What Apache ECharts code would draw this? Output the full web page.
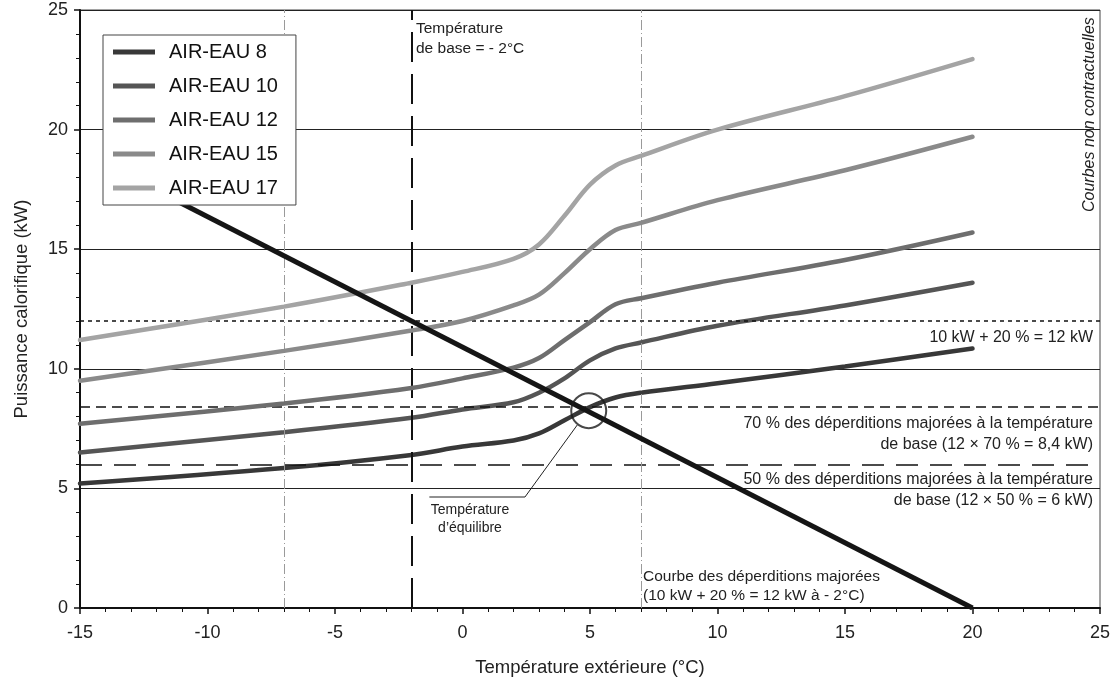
<!DOCTYPE html>
<html>
<head>
<meta charset="utf-8">
<script src="https://cdn.jsdelivr.net/npm/echarts@6/dist/echarts.min.js"></script>
<style>html,body{margin:0;padding:0;background:#fff}#c{width:1115px;height:686px}</style>
</head>
<body>
<div id="c"></div>
<script>
// Temperatures (°C) at which the curves are sampled
const temps = [-15, -7, -2, 0, 2, 3, 4, 5, 6, 7, 10, 15, 20];
// Heating power (kW) per model
const eau8  = [5.2, 5.85, 6.4, 6.75, 7.0, 7.3, 7.85, 8.4, 8.8, 9.0, 9.4, 10.1, 10.85];
const eau10 = [6.5, 7.35, 7.95, 8.3, 8.6, 9.0, 9.6, 10.35, 10.85, 11.1, 11.8, 12.65, 13.6];
const eau12 = [7.7, 8.55, 9.2, 9.6, 10.05, 10.45, 11.2, 11.95, 12.7, 12.95, 13.6, 14.55, 15.7];
const eau15 = [9.5, 10.75, 11.6, 12.0, 12.65, 13.1, 14.0, 15.0, 15.8, 16.1, 17.05, 18.3, 19.7];
const eau17 = [11.2, 12.6, 13.6, 14.05, 14.6, 15.2, 16.4, 17.7, 18.5, 18.9, 20.0, 21.4, 22.95];
const seriesNames = ['AIR-EAU 8', 'AIR-EAU 10', 'AIR-EAU 12', 'AIR-EAU 15', 'AIR-EAU 17'];
const seriesColors = ['#383838', '#555555', '#6e6e6e', '#8a8a8a', '#a4a4a4'];
// Heat-loss line (kW): 12 kW at -2 °C, 0 kW at 20 °C
const deperdTemps = [-13.5, 20];
const deperdVals  = [18.27, 0];
// Reference levels
const levelLines = [12, 8.4, 6];
const tempLines = [-7, 7];
const baseTemp = -2;
// Equilibrium point and its leader line (data space)
const equilibre = [4.95, 8.25];
const leaderX = [4.5, 2.45, -1.3];
const leaderY = [7.65, 4.64, 4.64];
const xTicks = [-15, 25, 5];
const yTicks = [0, 25, 5];

const FONT = '"Liberation Sans", Arial, sans-serif';
const pairs = (xs, ys) => xs.map((x, i) => [x, ys[i]]);
const curves = [eau8, eau10, eau12, eau15, eau17];

const series = [];
series.push({
  type: 'line', name: 'refs', data: [], silent: true, z: 1,
  markLine: {
    silent: true, symbol: 'none', label: {show: false}, animation: false,
    data: [
      {yAxis: levelLines[0], lineStyle: {color: '#111', width: 1.5, type: [4, 4]}},
      {yAxis: levelLines[1], lineStyle: {color: '#111', width: 1.5, type: [10, 6]}},
      {yAxis: levelLines[2], lineStyle: {color: '#111', width: 1.5, type: [22, 12]}},
      {xAxis: tempLines[0], lineStyle: {color: '#9a9a9a', width: 1, type: [10, 3, 1, 3]}},
      {xAxis: tempLines[1], lineStyle: {color: '#9a9a9a', width: 1, type: [10, 3, 1, 3]}},
      {xAxis: baseTemp, lineStyle: {color: '#111', width: 2, type: [30, 12]}}
    ]
  }
});
curves.forEach((c, i) => {
  series.push({
    type: 'line', name: seriesNames[i], data: pairs(temps, c), smooth: 0.35,
    showSymbol: false, symbol: 'none', z: 3 + i,
    lineStyle: {color: seriesColors[i], width: 4.5, cap: 'round'},
    itemStyle: {color: seriesColors[i]}
  });
});
series.push({
  type: 'line', name: 'deperditions', data: pairs(deperdTemps, deperdVals), symbol: 'none', z: 10,
  lineStyle: {color: '#151515', width: 5}
});
series.push({
  type: 'line', name: 'leader', data: pairs(leaderX, leaderY), symbol: 'none', z: 10,
  lineStyle: {color: '#222', width: 1}
});
series.push({
  type: 'scatter', name: 'equilibre', data: [equilibre], symbol: 'circle', symbolSize: 35, z: 11,
  itemStyle: {color: 'rgba(0,0,0,0)', borderColor: '#1a1a1a', borderWidth: 2}
});

const txt = (x, y, text, size, align, lh, extra) => Object.assign({
  type: 'text', x, y, z: 100,
  style: {text, font: size + 'px ' + FONT, fill: '#222', align, verticalAlign: 'top', lineHeight: lh}
}, extra || {});

const option = {
  animation: false,
  backgroundColor: '#fff',
  textStyle: {fontFamily: FONT},
  grid: {left: 80, right: 15, top: 10, bottom: 78, show: true, borderColor: '#444', borderWidth: 1,
    backgroundColor: 'transparent', containLabel: false, outerBoundsMode: 'none'},
  legend: {
    data: seriesNames, orient: 'vertical', left: 103, top: 35,
    backgroundColor: '#fff', borderColor: '#444', borderWidth: 1,
    padding: [7, 18, 7, 10], itemGap: 14, icon: 'rect', itemWidth: 42, itemHeight: 5,
    textStyle: {fontSize: 20, color: '#111', fontFamily: FONT, lineHeight: 20, padding: [0, 0, 0, 9]},
    z: 50
  },
  xAxis: {
    type: 'value', min: xTicks[0], max: xTicks[1], interval: xTicks[2],
    name: 'Température extérieure (°C)', nameLocation: 'middle', nameGap: 50,
    nameTextStyle: {fontSize: 18.5, color: '#222'},
    axisLine: {show: true, onZero: false, lineStyle: {color: '#111', width: 2}},
    axisTick: {show: true, length: 6, lineStyle: {color: '#111', width: 1.5}},
    minorTick: {show: true, splitNumber: 5, length: 4, lineStyle: {color: '#111', width: 1}},
    axisLabel: {fontSize: 18, color: '#222', margin: 16},
    splitLine: {show: false}
  },
  yAxis: {
    type: 'value', min: yTicks[0], max: yTicks[1], interval: yTicks[2],
    name: 'Puissance calorifique (kW)', nameLocation: 'middle', nameGap: 49,
    nameTextStyle: {fontSize: 18.5, color: '#222'},
    axisLine: {show: true, onZero: false, lineStyle: {color: '#111', width: 2}},
    axisTick: {show: true, length: 6, lineStyle: {color: '#111', width: 1.5}},
    minorTick: {show: true, splitNumber: 5, length: 4, lineStyle: {color: '#111', width: 1}},
    axisLabel: {fontSize: 18, color: '#222', margin: 12},
    splitLine: {show: true, lineStyle: {color: '#222', width: 1}}
  },
  series,
  graphic: [
    txt(416, 19, 'Température\nde base = - 2°C', 15.5, 'left', 20),
    txt(1093, 328, '10 kW + 20 % = 12 kW', 16, 'right', 20),
    txt(1093, 413, '70 % des déperditions majorées à la température\nde base (12 × 70 % = 8,4 kW)', 16, 'right', 21),
    txt(1093, 469, '50 % des déperditions majorées à la température\nde base (12 × 50 % = 6 kW)', 16, 'right', 21),
    txt(470, 501, 'Température\nd’équilibre', 14, 'center', 18),
    txt(643, 567, 'Courbe des déperditions majorées\n(10 kW + 20 % = 12 kW à - 2°C)', 15.5, 'left', 19),
    {type: 'text', x: 1082, y: 212, rotation: Math.PI / 2, z: 100,
      style: {text: 'Courbes non contractuelles', font: 'italic 16px ' + FONT, fill: '#222', align: 'left', verticalAlign: 'top'}}
  ]
};
const chart = echarts.init(document.getElementById('c'), null, {renderer: 'canvas'});
chart.setOption(option);
</script>
</body>
</html>
